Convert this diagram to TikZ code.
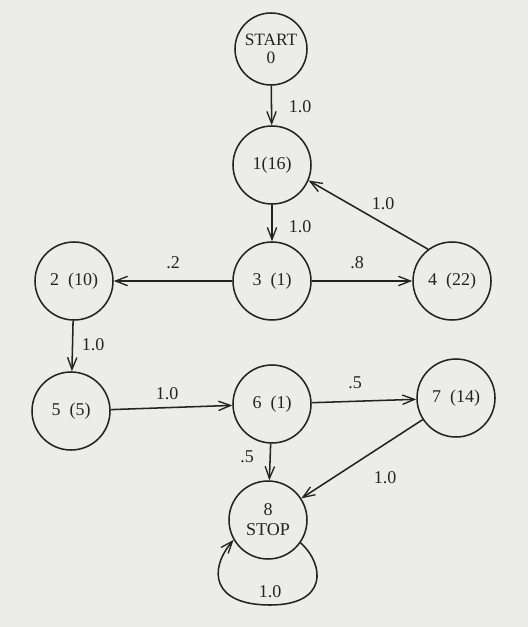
\documentclass[tikz,border=0pt]{standalone}
\usepackage{fontspec}
\setmainfont{Liberation Serif}
\usetikzlibrary{arrows.meta}
\definecolor{ink}{RGB}{35,35,35}
\definecolor{bg}{RGB}{236,236,232}
\newcommand{\gap}{\hspace{0.5em}}
\begin{document}
\begin{tikzpicture}[x=0.75pt,y=-0.75pt,
  state/.style={circle,draw=ink,line width=1.15pt,minimum size=58.5pt,inner sep=0pt,align=center,font=\fontsize{13.5}{15}\selectfont,text=ink},
  edge/.style={draw=ink,line width=1.15pt,-{Straight Barb[length=9pt,width=7pt,line width=1pt]}},
  lbl/.style={font=\fontsize{13.5}{15}\selectfont,text=ink,inner sep=0pt}]
\fill[bg] (0,0) rectangle (528,627);
\useasboundingbox (0,0) rectangle (528,627);
% nodes
\node[state,minimum size=54pt,font=\fontsize{13}{13.5}\selectfont] (n0) at (271,49) {START\\0};
\node[state] (n1) at (272,165) {1(16)};
\node[state] (n3) at (272,281) {3\gap(1)};
\node[state] (n2) at (74,281) {2\gap(10)};
\node[state] (n4) at (452,281) {4\gap(22)};
\node[state] (n5) at (71,411) {5\gap(5)};
\node[state] (n6) at (272,404) {6\gap(1)};
\node[state] (n7) at (456,398) {7\gap(14)};
\node[state] (n8) at (268,520) {8\\STOP};
% edges
\draw[edge] (n0) -- (n1);
\draw[edge] (n1) -- (n3);
\draw[edge] (n3) -- (n2);
\draw[edge] (n3) -- (n4);
\draw[edge] (n4.127) -- (n1.-23);
\draw[edge] (n2) -- (n5);
\draw[edge] (n5) -- (n6);
\draw[edge] (n6) -- (n7);
\draw[edge] (n6) -- (n8);
\draw[edge] (n7) -- (n8);
\draw[edge] (n8.-35) .. controls (325,565) and (328,605) .. (270,605)
  .. controls (212,605) and (208,570) .. (n8.-150);
% labels
\node[lbl] (l01) at (300,107) {1.0};
\node[lbl] (l13) at (300,227) {1.0};
\node[lbl] (l41) at (383,204) {1.0};
\node[lbl] (l32) at (173,263) {.2};
\node[lbl] (l34) at (357,263) {.8};
\node[lbl] (l25) at (93,345) {1.0};
\node[lbl] (l56) at (167,394) {1.0};
\node[lbl] (l67) at (355,383) {.5};
\node[lbl] (l68) at (247,457) {.5};
\node[lbl] (l78) at (385,478) {1.0};
\node[lbl] (l88) at (270,592) {1.0};
\end{tikzpicture}
\end{document}
